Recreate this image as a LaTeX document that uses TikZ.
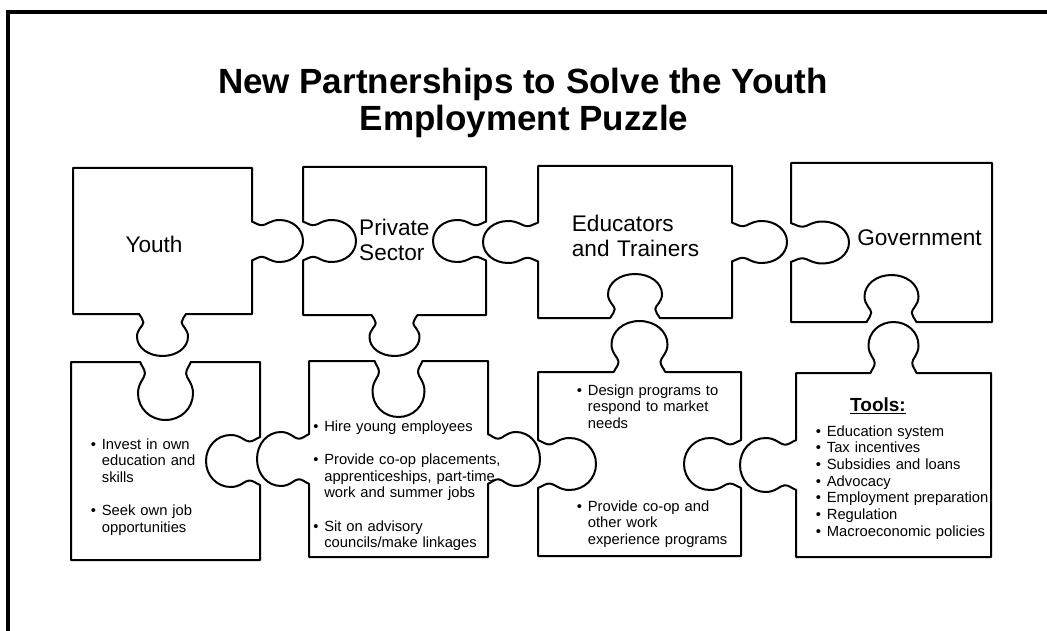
\documentclass[tikz,border=0pt]{standalone}
\usepackage{fontspec}
\setmainfont{Liberation Sans}
\usetikzlibrary{calc}

\newcommand{\pitem}{\hangindent=11pt\hangafter=1\noindent\makebox[11pt][l]{\textbullet}}

\begin{document}
\begin{tikzpicture}[x=1pt, y=-1pt,
    piece/.style={draw=black, line width=2pt, line join=round},
    % knob (#2>0) or hole (#2<0) in the middle of an edge, #1 = half width
    tab/.style 2 args={to path={
      let \p1=(\tikztostart), \p2=(\tikztotarget),
          \p3=($(\p1)!0.5!(\p2)$),
          \p4=($(\p1)!1pt!(\p2)-(\p1)$),
          \p5=($(\p1)!1pt!90:(\p2)-(\p1)$) in
      -- ($(\p3)+{-0.92*#1}*(\p4)$)
      .. controls ($(\p3)+{-0.86*#1}*(\p4)+{0.08*(#2)}*(\p5)$)
              and ($(\p3)+{-0.75*#1}*(\p4)+{0.12*(#2)}*(\p5)$)
      .. ($(\p3)+{-0.75*#1}*(\p4)+{0.2*(#2)}*(\p5)$)
      .. controls ($(\p3)+{-0.75*#1}*(\p4)+{0.28*(#2)}*(\p5)$)
              and ($(\p3)+{-1*#1}*(\p4)+{0.36*(#2)}*(\p5)$)
      .. ($(\p3)+{-1*#1}*(\p4)+{0.54*(#2)}*(\p5)$)
      .. controls ($(\p3)+{-1*#1}*(\p4)+{0.8*(#2)}*(\p5)$)
              and ($(\p3)+{-0.56*#1}*(\p4)+{1*(#2)}*(\p5)$)
      .. ($(\p3)+{1*(#2)}*(\p5)$)
      .. controls ($(\p3)+{0.56*#1}*(\p4)+{1*(#2)}*(\p5)$)
              and ($(\p3)+{1*#1}*(\p4)+{0.8*(#2)}*(\p5)$)
      .. ($(\p3)+{1*#1}*(\p4)+{0.54*(#2)}*(\p5)$)
      .. controls ($(\p3)+{1*#1}*(\p4)+{0.36*(#2)}*(\p5)$)
              and ($(\p3)+{0.75*#1}*(\p4)+{0.28*(#2)}*(\p5)$)
      .. ($(\p3)+{0.75*#1}*(\p4)+{0.2*(#2)}*(\p5)$)
      .. controls ($(\p3)+{0.75*#1}*(\p4)+{0.12*(#2)}*(\p5)$)
              and ($(\p3)+{0.86*#1}*(\p4)+{0.08*(#2)}*(\p5)$)
      .. ($(\p3)+{0.92*#1}*(\p4)$)
      -- (\tikztotarget)}},
    headline/.style={anchor=base, inner sep=0pt, font=\fontsize{35}{38}\selectfont\bfseries},
    piecename/.style={inner sep=0pt, font=\fontsize{22.6}{25}\selectfont},
    bodytext/.style={anchor=base west, inner sep=0pt, text width=200pt,
      font=\fontsize{14.75}{16.7}\selectfont}]

\useasboundingbox (0,0) rectangle (1047,631);

% frame
\draw[line width=4pt] (8,631) -- (8,12) -- (1047,12);

% title
\node[headline] (titleA) at (523,93.5) {New Partnerships to Solve the Youth};
\node[headline] (titleB) at (524,131) {Employment Puzzle};

% top row
\draw[piece] (73,168) -- (252,168) to[tab={21}{51}] (252,314)
    to[tab={25.5}{42}] (73,314) -- cycle;
\draw[piece] (303,167) -- (486,167) to[tab={21}{-53}] (486,315)
    to[tab={25}{41}] (303,315) to[tab={21}{-53}] (303,167) -- cycle;
\draw[piece] (538,166) -- (732,166) to[tab={21}{55}] (732,318)
    to[tab={27}{-44}] (538,318) to[tab={21}{55}] (538,166) -- cycle;
\draw[piece] (791,163) -- (992,163) -- (992,322)
    to[tab={27}{-47}] (791,322) to[tab={21}{-58}] (791,163) -- cycle;

\node[piecename, anchor=base] (youth) at (154,253) {Youth};
\node[piecename, anchor=base west, text width=90pt] (private) at (359,236) {Private\newline Sector};
\node[piecename, anchor=base west, text width=150pt] (educators) at (571.7,232) {Educators\newline and Trainers};
\node[piecename, anchor=base] (government) at (919.5,246) {Government};

% bottom row
\draw[piece] (71,362) to[tab={27.5}{-58}] (260,362) to[tab={26}{-54}] (260,560)
    -- (71,560) -- cycle;
\draw[piece] (309,361) to[tab={26}{-56}] (488,361) to[tab={27}{52}] (488,557)
    -- (309,557) to[tab={27}{52}] (309,361) -- cycle;
\draw[piece] (538,372) to[tab={28}{51}] (741,372) to[tab={26}{-57}] (741,556)
    -- (538,556) to[tab={26}{-58}] (538,372) -- cycle;
\draw[piece] (796,373) to[tab={25}{51}] (991,373) -- (991,557)
    -- (796,557) to[tab={27}{56}] (796,373) -- cycle;

% youth
\node[bodytext] (youthlist) at (90.7,449) {\pitem Invest in own\newline education and\newline skills\par
  \vspace{16.7pt}\pitem Seek own job\newline opportunities\par};

% private sector
\node[bodytext] (privatelist) at (313.1,431) {\pitem Hire young employees\par
  \vspace{16.7pt}\pitem Provide co-op placements,\newline apprenticeships, part-time\newline work and summer jobs\par
  \vspace{16.7pt}\pitem Sit on advisory\newline councils/make linkages\par};

% educators and trainers
\node[bodytext] (edulistA) at (576.7,395) {\pitem Design programs to\newline respond to market\newline needs\par};
\node[bodytext] (edulistB) at (576.7,511) {\pitem Provide co-op and\newline other work\newline experience programs\par};

% government
\node[anchor=base, inner sep=0pt, font=\fontsize{19}{21}\selectfont\bfseries] (tools) at (878,411.7) {\underline{Tools:}};
\node[bodytext] (toollist) at (815.7,436) {\pitem Education system\par
  \pitem Tax incentives\par
  \pitem Subsidies and loans\par
  \pitem Advocacy\par
  \pitem Employment preparation\par
  \pitem Regulation\par
  \pitem Macroeconomic policies\par};

\end{tikzpicture}
\end{document}
